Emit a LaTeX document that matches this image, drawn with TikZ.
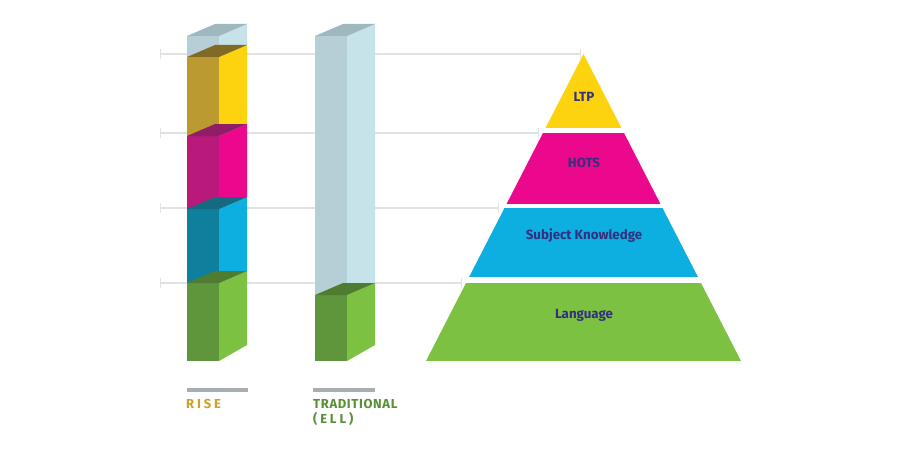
\documentclass[tikz,border=0pt]{standalone}
\usepackage{fontspec}
\setmainfont{Fira Sans}
\newfontfamily\spacedfont[LetterSpace=22]{Fira Sans}
\newfontfamily\tradfont[LetterSpace=5]{Fira Sans}
\definecolor{capF}{HTML}{B6CED6}
\definecolor{capS}{HTML}{C6E3E9}
\definecolor{capT}{HTML}{9FB8BF}
\definecolor{gldF}{HTML}{BB9B2F}
\definecolor{gldS}{HTML}{FDD20E}
\definecolor{gldT}{HTML}{806A26}
\definecolor{pnkF}{HTML}{B8197A}
\definecolor{pnkS}{HTML}{EC088D}
\definecolor{pnkT}{HTML}{8F1D68}
\definecolor{bluF}{HTML}{0E7F9D}
\definecolor{bluS}{HTML}{0DAEE0}
\definecolor{bluT}{HTML}{156A80}
\definecolor{grnF}{HTML}{5F963C}
\definecolor{grnS}{HTML}{7CC142}
\definecolor{grnT}{HTML}{4E7D31}
\definecolor{navy}{HTML}{33307F}
\definecolor{guidec}{HTML}{E0E2E3}
\definecolor{barc}{HTML}{A7AEB1}
\definecolor{risec}{HTML}{C9A228}
\definecolor{tradc}{HTML}{5A8F3A}
\newcommand\colseg[7]{%
  \fill[#4] (#1,#2) rectangle ({#1+32},#3);
  \fill[#5] ({#1+32},#2) -- ({#1+60},{#2-12}) -- ({#1+60},{#3-#7}) -- ({#1+32},#3) -- cycle;
  \fill[#6] (#1,#2) -- ({#1+32},#2) -- ({#1+60},{#2-12}) -- ({#1+28},{#2-12}) -- cycle;
}
\begin{document}
\begin{tikzpicture}[x=1pt,y=-1pt,
  guide/.style={draw=guidec,line width=1.6pt},
  pyrtext/.style={font=\bfseries\fontsize{13.3}{15}\selectfont,text=navy,inner sep=0pt},
  bartick/.style={draw=barc,line width=3.5pt}]
\useasboundingbox (0,0) rectangle (900,460);
\fill[white] (0,0) rectangle (900,460);
% guide lines
\foreach \yy/\xe in {54/580,133/538,208/498,283/461}{
  \draw[guide] (160,\yy) -- (\xe,\yy);
  \draw[draw=guidec,line width=1pt] (160,\yy-5) -- (160,\yy+5);
  \draw[draw=guidec,line width=1pt] (\xe,\yy-5) -- (\xe,\yy+5);
}
% RISE column
\colseg{187}{36}{57}{capF}{capS}{capT}{12}
\colseg{187}{57}{136}{gldF}{gldS}{gldT}{12}
\colseg{187}{136}{209}{pnkF}{pnkS}{pnkT}{12}
\colseg{187}{209}{283}{bluF}{bluS}{bluT}{12}
\colseg{187}{283}{361}{grnF}{grnS}{grnT}{16}
% Traditional column
\colseg{315}{36}{295}{capF}{capS}{capT}{12}
\colseg{315}{295}{361}{grnF}{grnS}{grnT}{16}
% pyramid
\begin{scope}
  \clip (583.5,54) -- (741,361) -- (426,361) -- cycle;
  \fill[gldS] (400,40) rectangle (760,128);
  \fill[pnkS] (400,133) rectangle (760,204);
  \fill[bluS] (400,208) rectangle (760,277);
  \fill[grnS] (400,283) rectangle (760,361);
\end{scope}
\node[pyrtext] (ltp) at (584,97) {LTP};
\node[pyrtext] (hots) at (584,163) {HOTS};
\node[pyrtext] (subj) at (584,236) {Subject Knowledge};
\node[pyrtext] (lang) at (584,315) {Language};
% bottom labels
\draw[bartick] (187,390) -- (248,390);
\draw[bartick] (313,390) -- (375,390);
\node[anchor=west,inner sep=0pt,text=risec,font=\spacedfont\bfseries\fontsize{13}{15}\selectfont] (rise) at (186,404) {RISE};
\node[anchor=west,inner sep=0pt,text=tradc,font=\tradfont\bfseries\fontsize{13}{15}\selectfont] (trad) at (313,404) {TRADITIONAL};
\node[anchor=west,inner sep=0pt,text=tradc,font=\spacedfont\bfseries\fontsize{13}{15}\selectfont] (ell) at (313,419) {(ELL)};
\end{tikzpicture}
\end{document}
